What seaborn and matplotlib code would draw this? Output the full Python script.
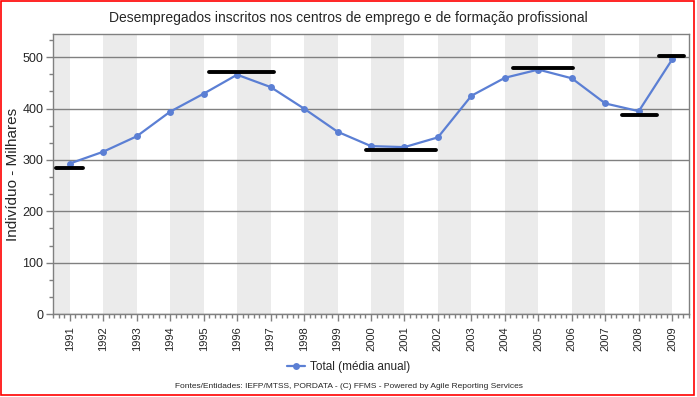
import matplotlib
matplotlib.use('Agg')
import matplotlib.pyplot as plt
import seaborn as sns
import pandas as pd
from matplotlib.ticker import MultipleLocator, AutoMinorLocator
from matplotlib.patches import Rectangle

# data
years = list(range(1991, 2010))
total = [293, 316, 346, 394, 429, 466, 442, 400, 355, 327, 325, 344,
         425, 460, 476, 459, 410, 395, 496]

# black horizontal reference bars (start year, end year, level)
bar_start = [1990.6, 1995.15, 1999.85, 2004.25, 2007.5, 2008.6]
bar_end = [1991.4, 1997.1, 2001.95, 2006.05, 2008.55, 2009.35]
bar_level = [285, 472, 319, 480, 388, 503]

df = pd.DataFrame({'ano': years, 'total': total})

sns.set_theme(style='white')
plt.rcParams['font.family'] = ['Liberation Sans', 'DejaVu Sans']

fig = plt.figure(figsize=(6.97, 3.97), dpi=100)
ax = fig.add_axes([0.076, 0.209, 0.9125, 0.705])

# alternating grey bands
for y0 in range(1990, 2010, 2):
    ax.axvspan(y0, y0 + 1, color='#ebebeb', lw=0, zorder=0)

ax.yaxis.grid(True, color='#808080', lw=1, zorder=1)
ax.set_axisbelow(True)

sns.lineplot(data=df, x='ano', y='total', ax=ax, color='#5b7fd4', lw=1.6,
             marker='o', markersize=5, markeredgewidth=0,
             label='Total (média anual)', zorder=3)

ax.hlines(bar_level, bar_start, bar_end, colors='black', lw=2.8,
          capstyle='round', zorder=4)

ax.set_xlim(1990.5, 2009.5)
ax.set_ylim(0, 545)
ax.set_xticks(years)
ax.set_xticklabels([str(y) for y in years], rotation=90, fontsize=8)
ax.xaxis.set_minor_locator(AutoMinorLocator(6))
ax.yaxis.set_major_locator(MultipleLocator(100))
ax.yaxis.set_minor_locator(AutoMinorLocator(3))
ax.tick_params(axis='both', which='major', direction='out', length=5,
               width=1, color='#808080', labelsize=9, pad=2)
ax.tick_params(axis='x', which='major', labelsize=8, pad=4)
ax.tick_params(axis='both', which='minor', direction='out', length=3,
               width=1, color='#808080')
ax.tick_params(left=True, bottom=True, which='both')

for s in ax.spines.values():
    s.set_color('#808080')
    s.set_linewidth(1)

ax.set_xlabel('')
ax.set_ylabel('Indivíduo - Milhares', fontsize=11)
ax.yaxis.set_label_coords(-0.052, 0.5)
ax.set_title('Desempregados inscritos nos centros de emprego e de formação profissional',
             fontsize=10, pad=9, x=0.465)

ax.legend(loc='upper center', bbox_to_anchor=(0.465, -0.13), frameon=False,
          fontsize=8.5, handlelength=1.5, handletextpad=0.4)

fig.text(0.5, 0.018, 'Fontes/Entidades: IEFP/MTSS, PORDATA - (C) FFMS - Powered by Agile Reporting Services',
         ha='center', va='bottom', fontsize=6)

fig.patches.append(Rectangle((0.001, 0.004), 0.995, 0.993, transform=fig.transFigure,
                             fill=False, edgecolor='red', lw=1.2))

fig.savefig('out.png', dpi=100)
